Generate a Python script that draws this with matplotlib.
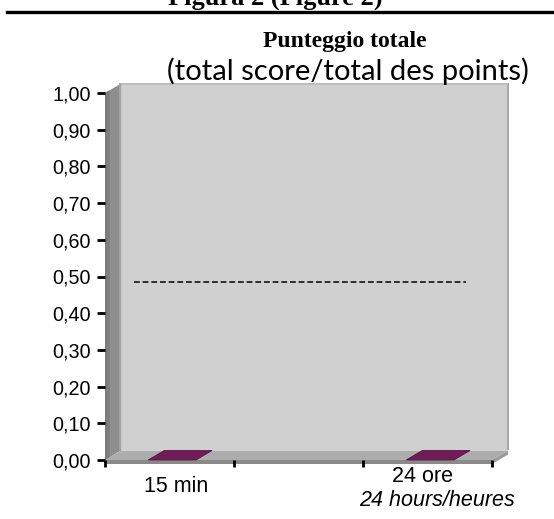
import numpy as np
import matplotlib
matplotlib.use("Agg")
import matplotlib.pyplot as plt
import matplotlib.transforms as mtransforms
from matplotlib.patches import Polygon, Rectangle
from matplotlib.lines import Line2D

# ---- data ----
categories = ["15 min", "", "24 ore"]
categories_en = ["", "", "24 hours/heures"]
values = [0.0, np.nan, 0.0]
reference_level = 0.485
y_ticks = [0.0, 0.1, 0.2, 0.3, 0.4, 0.5, 0.6, 0.7, 0.8, 0.9, 1.0]
y_tick_labels = ["0,00", "0,10", "0,20", "0,30", "0,40", "0,50",
                 "0,60", "0,70", "0,80", "0,90", "1,00"]
title_it = "Punteggio totale"
title_en = "(total score/total des points)"
figure_caption = "Figura 2 (Figure 2)"

W, H = 554, 519
fig = plt.figure(figsize=(W / 100, H / 100), dpi=100)
fig.patch.set_facecolor("white")

def fx(px):
    return px / W

def fy(py):
    return 1 - py / H

ax = fig.add_axes([fx(105), fy(460), fx(492) - fx(105), fy(93) - fy(460)])
ax.set_xlim(0, len(categories))
ax.set_ylim(0, 1)
ax.set_facecolor("none")
for s in ax.spines.values():
    s.set_visible(False)

n = len(categories)
DX, DY = 0.125, 0.026  # depth offset in data units

# back wall
ax.add_patch(Rectangle((DX, DY), n, 1.0, facecolor="#d0d0d0", edgecolor="none",
                       zorder=0, clip_on=False))
ax.add_patch(Rectangle((n + DX - 0.012, DY), 0.018, 1.0, facecolor="#a8a8a8",
                       edgecolor="none", zorder=0.5, clip_on=False))
ax.add_patch(Rectangle((DX, 1 + DY - 0.004), n, 0.006, facecolor="#bdbdbd",
                       edgecolor="none", zorder=0.5, clip_on=False))
# left side wall
ax.add_patch(Polygon([(0, 0), (DX, DY), (DX, 1 + DY), (0, 1)], closed=True,
                     facecolor="#8e8e8e", edgecolor="none", zorder=1, clip_on=False))
ax.add_patch(Polygon([(0, 0), (0.035, 0.0073), (0.035, 1.0073), (0, 1)], closed=True,
                     facecolor="#7c7c7c", edgecolor="none", zorder=1.1, clip_on=False))
ax.add_patch(Polygon([(DX - 0.02, DY), (DX, DY), (DX, 1 + DY), (DX - 0.02, 1 + DY)],
                     closed=True, facecolor="#a4a4a4", edgecolor="none", zorder=1.1,
                     clip_on=False))
# floor
ax.add_patch(Polygon([(0, 0), (n, 0), (n + DX, DY), (DX, DY)], closed=True,
                     facecolor="#adadad", edgecolor="none", zorder=1, clip_on=False))
ax.add_patch(Rectangle((0, -0.011), n, 0.011, facecolor="#8a8a8a", edgecolor="none",
                       zorder=1.2, clip_on=False))
ax.add_patch(Polygon([(n, -0.011), (n + DX, DY - 0.011), (n + DX, DY), (n, 0)],
                     closed=True, facecolor="#9a9a9a", edgecolor="none", zorder=1.2,
                     clip_on=False))

# bars (3D slabs)
bw = 0.37
for i, v in enumerate(values):
    if np.isnan(v):
        continue
    x0 = i + 0.52 - bw / 2
    top = [(x0, v), (x0 + bw, v), (x0 + bw + DX, v + DY), (x0 + DX, v + DY)]
    ax.add_patch(Polygon(top, closed=True, facecolor="#6f1d57", edgecolor="#5a1546",
                         linewidth=0.6, zorder=3, clip_on=False))

# dashed reference line
ax.add_line(Line2D([0.225, 2.80], [reference_level, reference_level], color="#222222",
                   linewidth=1.3, linestyle=(0, (3.2, 1.6)), zorder=4))

# ticks
ax.set_yticks(y_ticks)
ax.set_yticklabels(y_tick_labels)
ax.set_xticks(np.arange(0, n + 1))
ax.set_xticklabels([])
ax.tick_params(axis="y", direction="out", length=6, width=2, color="black",
               labelsize=14.2, pad=4)
ax.tick_params(axis="x", direction="out", length=5, width=2, color="black", pad=2)
for lab in ax.get_yticklabels():
    lab.set_fontfamily("Liberation Sans")

# category labels
trans = mtransforms.blended_transform_factory(ax.transData, fig.transFigure)
for i, (c, e) in enumerate(zip(categories, categories_en)):
    if c and not e:
        ax.text(i + 0.55, fy(487), c, transform=trans, ha="center", va="center",
                fontsize=15.5, family="Liberation Sans")
    elif c:
        ax.text(i + 0.46, fy(477), c, transform=trans, ha="center", va="center",
                fontsize=15.5, family="Liberation Sans")
        ax.text(i + 0.57, fy(500), e, transform=trans, ha="center", va="center",
                fontsize=15.5, family="Liberation Sans", style="italic")

# titles
fig.text(fx(345), fy(42), title_it, ha="center", va="center", fontsize=17,
         family="Liberation Serif", weight="bold")
fig.text(fx(348), fy(71), title_en, ha="center", va="center", fontsize=21,
         family="Lato")
# caption, cut by the top edge as in the source
fig.text(fx(275), fy(5), figure_caption, ha="center", va="baseline", fontsize=19,
         family="Liberation Serif", weight="bold")
fig.add_artist(Line2D([fx(7), fx(554)], [fy(11.5), fy(11.5)], color="black",
                      linewidth=2.4, transform=fig.transFigure))

fig.savefig("out.png", dpi=100, facecolor="white")
